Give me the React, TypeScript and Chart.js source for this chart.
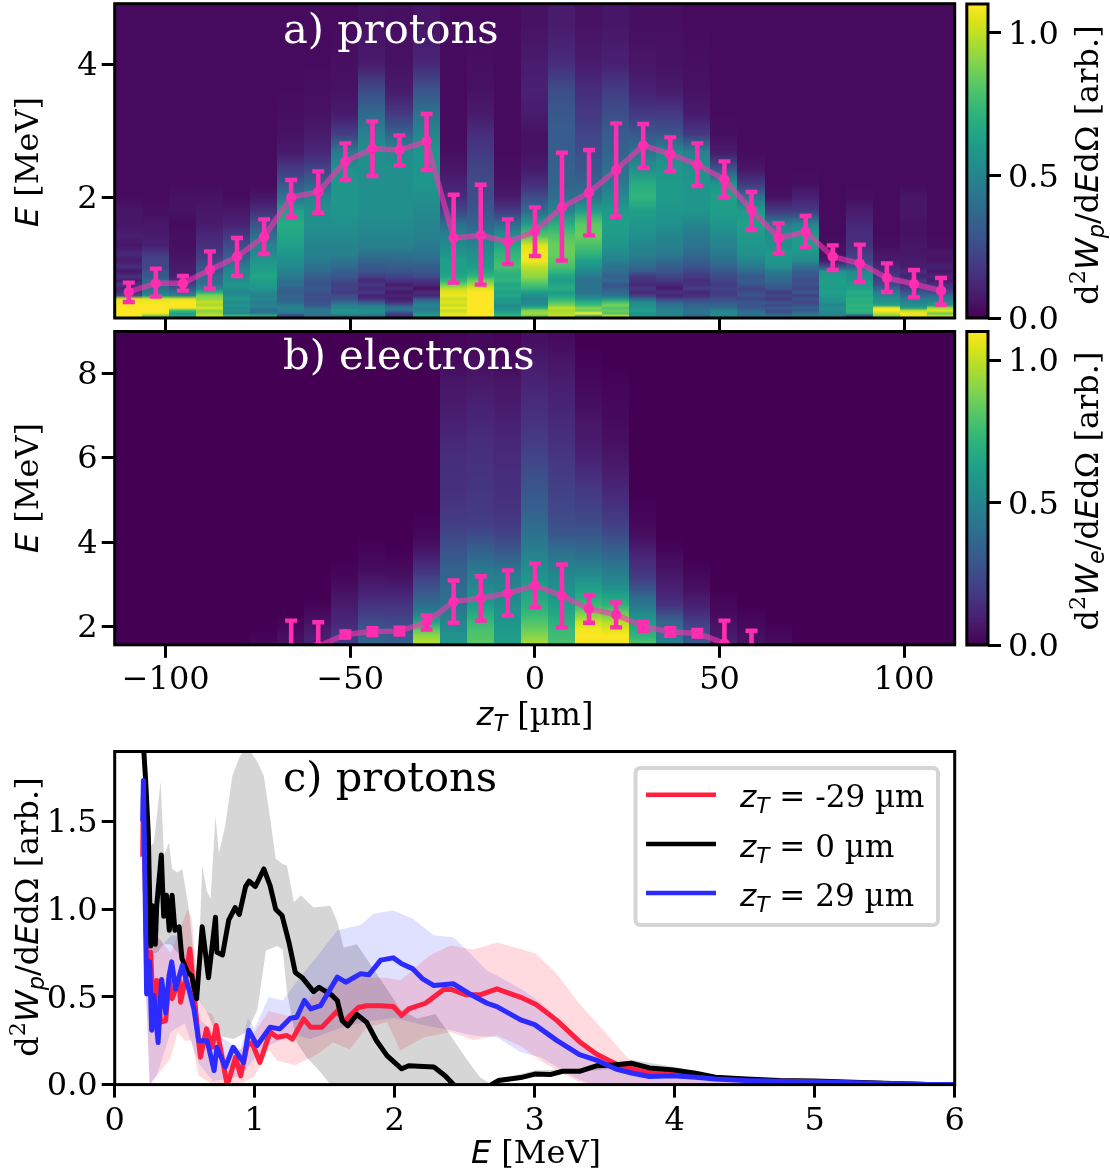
import React, { useEffect, useRef } from "react";
import { Chart, registerables } from "chart.js";
Chart.register(...registerables);

// ---------- data ----------
const zCenters = [-110,-102.67,-95.33,-88,-80.67,-73.33,-66,-58.67,-51.33,-44,-36.67,-29.33,-22,-14.67,-7.33,0,7.33,14.67,22,29.33,36.67,44,51.33,58.67,66,73.33,80.67,88,95.33,102.67,110];
const zHalfWidth = 3.667;

const protonRowEdges = [0.2,0.24,0.28,0.32,0.36,0.4,0.45,0.5,0.55,0.6,0.66,0.72,0.78,0.85,0.92,1.0,1.1,1.2,1.35,1.5,1.7,1.9,2.1,2.3,2.55,2.8,3.1,3.4,3.8,4.2,4.95];
const protonColumns = [
[110,110,110,110,110,108,105,25,15,10,18,8,15,6,14,8,12,6,9,6,6,3,3,3,3,3,3,3,3,3],
[85,108,110,110,110,108,105,55,45,40,35,38,30,28,22,22,18,10,8,6,4,3,3,3,3,3,3,3,3,3],
[65,62,75,108,110,110,105,50,40,30,20,14,10,8,8,6,5,4,4,3,5,5,3,3,3,3,3,3,3,3],
[100,95,90,105,95,100,92,88,70,50,42,38,36,30,28,22,18,14,12,8,6,5,3,3,3,3,3,3,3,3],
[75,50,55,52,58,52,60,55,50,55,58,55,52,50,45,38,30,25,18,10,6,3,3,3,3,3,3,3,3,3],
[70,45,40,45,50,45,50,48,52,58,60,62,65,62,60,58,52,48,40,28,14,6,3,3,3,3,3,3,3,3],
[20,42,48,50,45,38,35,35,32,35,40,40,45,48,52,55,58,62,65,68,62,42,30,18,8,5,4,3,3,3],
[40,42,45,38,30,28,25,25,28,30,28,30,32,38,42,45,48,50,52,55,55,50,35,22,12,8,5,4,3,3],
[40,55,58,50,48,38,28,25,18,22,20,25,30,32,38,42,48,50,52,55,58,58,58,55,45,20,8,5,4,3],
[42,52,55,50,45,30,15,10,18,12,18,12,20,28,30,35,42,48,50,52,55,55,55,55,55,48,38,25,8,5],
[15,22,40,42,30,15,8,12,6,14,8,16,22,28,32,36,42,48,50,52,55,55,55,55,52,35,18,8,5,4],
[62,55,48,45,50,42,30,10,14,5,12,16,25,30,32,38,42,45,48,50,52,55,58,58,58,50,42,28,12,6],
[108,105,100,108,100,105,100,108,105,100,85,72,65,62,62,62,58,52,48,40,22,14,10,6,4,3,3,3,3,3],
[110,110,110,110,110,110,110,110,110,105,95,85,72,65,60,58,55,50,45,35,30,25,25,22,18,14,8,5,4,3],
[72,65,60,55,52,60,58,65,62,68,65,72,70,72,78,75,72,65,55,38,18,8,5,4,3,3,3,3,3,3],
[85,95,90,70,55,52,50,55,60,72,78,85,92,95,100,108,108,105,80,60,38,25,14,8,5,5,8,10,8,5],
[100,98,95,100,88,80,72,65,60,68,65,60,65,72,78,82,85,85,80,68,48,40,35,34,32,32,30,26,14,8],
[75,110,85,90,75,70,55,48,42,42,42,40,45,50,58,62,72,78,85,82,62,42,35,30,26,22,18,14,8,5],
[100,80,85,80,88,78,60,42,38,32,28,38,32,40,42,48,52,58,60,62,60,52,45,40,35,32,26,20,10,6],
[58,55,62,58,55,52,38,20,12,18,12,16,18,30,38,42,48,50,55,58,62,72,68,55,42,30,18,10,6,4],
[48,50,48,45,42,35,22,10,16,8,12,18,22,28,32,38,45,48,50,55,58,60,60,58,52,28,18,8,5,4],
[35,42,42,38,35,30,22,15,12,20,16,14,18,22,28,32,38,42,45,50,58,58,58,55,48,18,8,5,4,3],
[50,52,48,40,35,30,25,20,18,22,18,22,25,30,35,40,45,48,52,58,62,62,58,28,8,4,3,3,3,3],
[42,40,38,30,28,30,22,28,25,22,28,32,30,38,45,50,55,58,60,62,60,42,18,6,3,3,3,3,3,3],
[42,30,25,32,22,28,18,25,18,30,32,38,40,45,55,58,60,55,55,45,18,5,3,3,3,3,3,3,3,3],
[45,40,30,35,28,22,28,20,30,22,28,25,30,32,40,52,58,60,60,48,18,10,4,3,3,3,3,3,3,3],
[45,50,52,55,50,55,58,60,62,60,62,62,60,58,25,8,5,4,3,3,3,3,3,3,3,3,3,3,3,3],
[25,68,72,70,72,68,70,65,68,62,60,58,55,52,30,22,20,15,14,12,8,4,3,3,3,3,3,3,3,3],
[88,100,110,108,65,58,55,50,45,35,25,22,18,15,12,8,6,4,3,3,3,3,3,3,3,3,3,3,3,3],
[105,108,100,62,55,50,45,35,28,20,15,18,10,14,8,8,6,6,5,5,6,6,3,3,3,3,3,3,3,3],
[100,85,105,95,60,52,45,38,25,18,15,8,12,6,10,5,6,4,3,3,3,3,3,3,3,3,3,3,3,3],
];
const protonMean = [0.58,0.71,0.71,0.91,1.11,1.41,2.0,2.08,2.54,2.73,2.71,2.84,1.39,1.43,1.33,1.49,1.85,2.07,2.41,2.78,2.65,2.49,2.27,1.81,1.39,1.48,1.11,1.01,0.79,0.7,0.6];
const protonHi = [0.72,0.93,0.82,1.19,1.39,1.67,2.26,2.39,2.81,3.14,2.93,3.25,2.04,2.19,1.67,1.85,2.67,2.71,3.11,3.1,2.9,2.81,2.54,2.08,1.61,1.72,1.28,1.29,1.01,0.91,0.79];
const protonLo = [0.43,0.51,0.6,0.63,0.82,1.15,1.71,1.77,2.26,2.32,2.48,2.41,0.72,0.69,1.0,1.12,1.05,1.43,1.71,2.44,2.39,2.17,2.0,1.51,1.16,1.25,0.91,0.73,0.58,0.5,0.39];

const electronRowEdges = [1.55,1.7,1.85,2.0,2.2,2.4,2.6,2.8,3.0,3.25,3.5,3.75,4.0,4.3,4.6,5.0,5.4,5.8,6.2,6.6,7.0,7.5,8.0,8.5,9.05];
const electronColumns = [
[],[],[],[],[],
[2,1],
[5,4,2,1],
[10,9,7,5,3,1],
[20,18,15,12,10,8,6,4,2,1],
[36,34,30,25,20,16,12,9,6,3,2,1],
[34,32,28,24,20,16,12,9,5,3,1],
[98,92,82,65,48,40,33,28,22,15,10,5,2,1],
[58,56,52,50,46,42,40,38,36,34,30,27,23,20,17,15,15,14,12,10,8,6,3,1],
[82,80,78,74,68,62,56,52,48,44,38,32,25,20,18,17,16,15,14,12,10,7,4,2],
[62,60,60,58,56,54,52,50,48,42,35,28,22,18,16,15,14,13,12,10,8,6,3,1],
[95,90,85,80,74,70,66,62,58,54,50,46,42,38,33,30,26,22,19,16,14,11,8,4],
[78,76,74,70,66,62,58,55,52,48,44,38,30,26,23,21,19,17,15,13,11,9,6,3],
[108,110,108,102,88,75,68,62,56,48,42,36,30,25,21,18,14,10,8,6,4,2,1],
[108,110,105,98,85,72,64,56,50,44,38,32,25,20,16,12,9,6,4,3,2,1],
[78,72,68,60,52,44,38,28,20,15,12,8,4,2,1],
[48,44,40,35,26,16,12,10,8,5,3,1],
[30,27,24,20,14,10,7,4,3,1],
[10,8,6,5,3,2,1],
[5,4,3,2,1],
[3,2,1],
[],[],[],[],[],[],
];
const electronMean = [null,null,null,null,null,null,1.3,1.53,1.81,1.88,1.89,2.1,2.59,2.67,2.79,2.97,2.73,2.42,2.28,2.0,1.87,1.84,1.6,1.25,null,null,null,null,null,null,null];
const electronHi = [null,null,null,null,null,null,2.14,2.1,1.88,1.96,1.97,2.26,3.09,3.19,3.33,3.49,3.47,2.75,2.57,2.1,1.96,1.92,2.14,1.9,null,null,null,null,null,null,null];
const electronLo = [null,null,null,null,null,null,0.6,1.0,1.74,1.8,1.81,1.93,2.09,2.14,2.26,2.46,1.98,2.09,1.98,1.9,1.78,1.76,1.1,0.7,null,null,null,null,null,null,null];

const redE = [0.2,0.205,0.22,0.233,0.257,0.27,0.3,0.328,0.364,0.388,0.41,0.46,0.47,0.506,0.537,0.566,0.6,0.613,0.656,0.697,0.725,0.756,0.8,0.815,0.863,0.9,0.946,0.98,1.037,1.11,1.16,1.23,1.27,1.35,1.4,1.48,1.59,1.64,1.67,1.74,1.8,1.9,1.99,2.05,2.1,2.22,2.35,2.41,2.51,2.61,2.73,2.9,3.01,3.16,3.32,3.44,3.58,3.7,3.82,3.99,4.15,4.29,4.51,4.75,5.0,5.5,5.8,6.0];
const redW = [1.3,1.65,1.08,0.527,0.755,0.51,0.594,0.356,0.365,0.6,0.49,0.6,0.47,0.6,0.774,0.527,0.24,0.156,0.318,0.213,0.337,0.2,0.013,0.023,0.156,0.05,0.223,0.24,0.127,0.3,0.27,0.28,0.26,0.375,0.327,0.327,0.42,0.356,0.385,0.44,0.45,0.45,0.445,0.394,0.432,0.464,0.542,0.542,0.512,0.512,0.546,0.498,0.457,0.365,0.245,0.175,0.118,0.09,0.067,0.067,0.051,0.038,0.027,0.02,0.016,0.006,0.001,0];
const blackE = [0.2,0.22,0.24,0.257,0.27,0.29,0.3,0.333,0.35,0.37,0.39,0.41,0.43,0.46,0.48,0.52,0.55,0.585,0.625,0.67,0.72,0.73,0.77,0.815,0.86,0.89,0.935,0.96,1.005,1.065,1.11,1.15,1.195,1.245,1.29,1.34,1.42,1.46,1.55,1.59,1.625,1.665,1.73,1.8,1.87,1.945,2.05,2.1,2.28,2.36,2.42,2.46,2.66,2.69,2.74,2.9,3.0,3.11,3.2,3.32,3.44,3.56,3.69,3.82,3.99,4.15,4.29,4.51,4.75,5.0,5.5,5.8,6.0];
const blackW = [2.0,1.75,1.43,0.79,1.02,0.8,1.02,1.31,0.96,1.08,0.88,1.08,0.88,0.9,0.72,0.64,0.62,0.49,0.9,0.61,0.955,0.755,0.74,0.94,1.01,0.97,1.13,1.16,1.13,1.23,1.135,1.0,0.965,0.81,0.64,0.61,0.53,0.555,0.51,0.48,0.365,0.335,0.4,0.355,0.25,0.165,0.09,0.108,0.1,0.05,0,-0.05,-0.05,0,0.023,0.04,0.06,0.057,0.076,0.076,0.107,0.112,0.122,0.095,0.084,0.065,0.042,0.032,0.023,0.02,0.008,0.001,0];
const blueE = [0.2,0.205,0.214,0.228,0.25,0.264,0.28,0.31,0.335,0.364,0.388,0.407,0.435,0.483,0.523,0.566,0.6,0.66,0.71,0.73,0.79,0.846,0.92,0.958,1.017,1.11,1.18,1.255,1.3,1.355,1.4,1.47,1.59,1.65,1.755,1.815,1.9,1.99,2.05,2.13,2.2,2.28,2.42,2.53,2.66,2.73,2.9,3.0,3.16,3.32,3.44,3.58,3.7,3.82,3.99,4.15,4.29,4.51,4.75,5.0,5.5,5.8,6.0];
const blueW = [1.5,1.735,1.29,0.517,0.7,0.31,0.51,0.24,0.6,0.41,0.62,0.7,0.546,0.68,0.565,0.43,0.25,0.25,0.08,0.213,0.1,0.213,0.127,0.31,0.223,0.327,0.318,0.379,0.384,0.48,0.432,0.45,0.613,0.584,0.632,0.626,0.71,0.723,0.689,0.66,0.603,0.565,0.575,0.52,0.464,0.445,0.369,0.342,0.251,0.171,0.14,0.089,0.065,0.046,0.051,0.042,0.032,0.023,0.019,0.016,0.006,0.001,0];

const grayHiE = [0.2,0.24,0.25,0.28,0.328,0.352,0.388,0.41,0.447,0.483,0.53,0.578,0.6,0.625,0.66,0.685,0.72,0.744,0.79,0.84,0.887,0.92,0.97,1.02,1.065,1.11,1.15,1.195,1.23,1.28,1.33,1.42,1.54,1.59,1.635,1.73,1.8,1.945,2.04,2.16,2.29,2.39,2.52,2.61,2.69,2.75,3.0,3.3,3.7,4.0,4.3,4.75,5.5,6.0];
const grayHiW = [2.0,1.44,1.36,1.38,1.73,1.31,1.38,1.23,1.21,1.23,1.0,0.64,0.7,1.25,1.1,1.06,1.535,1.32,1.48,1.76,1.86,1.91,1.9,1.84,1.76,1.52,1.29,1.26,1.25,1.04,1.08,1.01,1.02,0.93,0.78,0.8,0.717,0.546,0.43,0.375,0.403,0.29,0.137,0.042,0,0.03,0.08,0.09,0.14,0.1,0.05,0.03,0.01,0];
const grayLoE = [0.2,0.25,0.3,0.35,0.4,0.45,0.5,0.55,0.59,0.66,0.73,0.85,0.946,1.02,1.08,1.16,1.2,1.23,1.3,1.37,1.47,1.54,2.7,3.0,3.7,4.3,6.0];
const grayLoW = [1.0,0.75,0.75,0.8,0.8,0.75,0.7,0.6,0.5,0.41,0.28,0.26,0.3,0.43,0.765,0.79,0.77,0.53,0.24,0.156,0.07,0,0,0.05,0.1,0.03,0];
const redHiE = [0.2,0.25,0.3,0.35,0.4,0.45,0.52,0.55,0.6,0.65,0.7,0.8,0.9,1.0,1.1,1.2,1.3,1.4,1.5,1.6,1.73,1.945,2.04,2.25,2.4,2.56,2.73,2.9,3.01,3.16,3.32,3.49,3.66,3.78,4.04,4.27,4.51,6.0];
const redHiW = [1.7,0.95,0.85,0.8,0.75,0.85,1.0,0.95,0.5,0.42,0.4,0.15,0.2,0.3,0.42,0.4,0.38,0.5,0.55,0.6,0.61,0.61,0.594,0.736,0.793,0.77,0.81,0.774,0.746,0.63,0.46,0.31,0.156,0.09,0.08,0.04,0.028,0];
const redLoE = [0.2,0.25,0.3,0.35,0.4,0.45,0.5,0.55,0.6,0.7,0.9,1.0,1.1,1.16,1.29,1.45,1.56,1.68,1.8,1.945,2.04,2.21,2.4,2.56,2.73,2.9,3.04,3.16,3.32,3.44,6.0];
const redLoW = [1.0,0,0.05,0.1,0.15,0.3,0.25,0.25,0.05,0,0,0.05,0.2,0.137,0.11,0.175,0.24,0.2,0.327,0.355,0.194,0.27,0.3,0.255,0.28,0.22,0.137,0.08,0.013,0,0];
const blueHiE = [0.2,0.25,0.3,0.35,0.4,0.45,0.5,0.55,0.6,0.7,0.8,0.9,0.95,1.0,1.1,1.2,1.33,1.47,1.59,1.755,1.85,1.99,2.13,2.28,2.42,2.53,2.66,2.73,2.92,3.04,3.16,3.32,3.44,3.56,3.7,3.82,4.5,6.0];
const blueHiW = [1.8,0.95,0.85,0.8,0.85,0.85,0.75,0.6,0.38,0.3,0.25,0.2,0.38,0.32,0.5,0.48,0.62,0.755,0.88,0.91,0.974,0.993,0.946,0.85,0.84,0.755,0.65,0.622,0.537,0.47,0.384,0.25,0.175,0.118,0.08,0.042,0.03,0];
const blueLoE = [0.2,0.25,0.3,0.4,0.5,0.6,0.7,0.8,0.9,1.0,1.1,1.2,1.3,1.4,1.6,1.8,2.0,2.1,2.2,2.4,2.55,2.73,2.9,3.04,3.16,3.28,3.37,3.44,6.0];
const blueLoW = [1.0,0,0.05,0.3,0.35,0.12,0.02,0.03,0.05,0.15,0.22,0.26,0.28,0.26,0.32,0.36,0.38,0.36,0.34,0.31,0.28,0.27,0.185,0.156,0.1,0.042,0.01,0,0];

const legendValues = ["-29", "0", "29"];
const zTicks = [-100, -50, 0, 50, 100];
const protonETicks = [2, 4];
const electronETicks = [2, 4, 6, 8];
const spectrumETicks = [0, 1, 2, 3, 4, 5, 6];
const spectrumWTicks = [0, 0.5, 1, 1.5];
const colorbarTicks = [0, 0.5, 1];
const viridis = ["#440154","#481567","#482677","#453781","#404788","#39568C","#33638D","#2D708E","#287D8E","#238A8D","#1F968B","#20A387","#29AF7F","#3CBB75","#55C667","#73D055","#95D840","#B8DE29","#DCE319","#FDE725"];

// ---------- drawing helpers ----------
const SERIF = "'DejaVu Serif'";
const SANS = "'DejaVu Sans'";
const PINK = "#ff2db0";
const VMAX = 1.1;
const L = 114.7, R = 954.7, W = 1110, H = 1171;
const TICK_FONT = 32;

function hex(c: string) { return [1, 3, 5].map((i) => parseInt(c.slice(i, i + 2), 16)); }
function colorOf(v: number) {
  const t = Math.max(0, Math.min(1, v / VMAX)) * (viridis.length - 1);
  const i = Math.min(viridis.length - 2, Math.floor(t));
  const a = hex(viridis[i]), b = hex(viridis[i + 1]), f = t - i;
  return `rgb(${a.map((x, k) => Math.round(x + (b[k] - x) * f)).join(",")})`;
}

type Run = { t: string; i?: boolean; sub?: boolean; sup?: boolean };
function runFont(r: Run, size: number) {
  const s = r.sub || r.sup ? size * 0.7 : size;
  return r.i ? `italic ${s}px ${SANS}` : `${s}px ${SERIF}`;
}
function drawRuns(ctx: any, runs: Run[], x: number, y: number, size: number, rot = 0, color = "#000", align = "center") {
  ctx.save();
  ctx.translate(x, y);
  ctx.rotate(rot);
  ctx.fillStyle = color;
  ctx.textBaseline = "alphabetic";
  ctx.textAlign = "left";
  let w = 0;
  for (const r of runs) { ctx.font = runFont(r, size); w += ctx.measureText(r.t).width; }
  let px = align === "center" ? -w / 2 : 0;
  for (const r of runs) {
    ctx.font = runFont(r, size);
    const dy = r.sub ? size * 0.2 : r.sup ? -size * 0.42 : 0;
    ctx.fillText(r.t, px, dy);
    px += ctx.measureText(r.t).width;
  }
  ctx.restore();
}
const zLabel: Run[] = [{ t: "z", i: true }, { t: "T", i: true, sub: true }];
const eLabel: Run[] = [{ t: "E", i: true }, { t: " [MeV]" }];
const dLabel = (p: string): Run[] => [{ t: "d" }, { t: "2", sup: true }, { t: "W", i: true }, { t: p, i: true, sub: true }, { t: "/d" }, { t: "E", i: true }, { t: "dΩ [arb.]" }];

function heatPlugin(columns: number[][], edges: number[]) {
  return {
    id: "heat",
    beforeDatasetsDraw(chart: any) {
      const { ctx, chartArea: a, scales } = chart;
      ctx.save();
      ctx.beginPath();
      ctx.rect(a.left, a.top, a.right - a.left, a.bottom - a.top);
      ctx.clip();
      const yb = scales.y.getPixelForValue(edges[0]);
      const yt = scales.y.getPixelForValue(edges[edges.length - 1]);
      columns.forEach((col, i) => {
        const x0 = Math.floor(scales.x.getPixelForValue(zCenters[i] - zHalfWidth));
        const x1 = Math.ceil(scales.x.getPixelForValue(zCenters[i] + zHalfWidth));
        const g = ctx.createLinearGradient(0, yb, 0, yt);
        for (let r = 0; r < edges.length - 1; r++) {
          const yc = scales.y.getPixelForValue((edges[r] + edges[r + 1]) / 2);
          g.addColorStop(Math.max(0, Math.min(1, (yb - yc) / (yb - yt))), colorOf((col[r] ?? 0) / 100));
        }
        ctx.fillStyle = g;
        ctx.fillRect(x0, yt, x1 - x0, yb - yt);
      });
      ctx.restore();
    },
  };
}
function errorPlugin(hi: (number | null)[], lo: (number | null)[]) {
  return {
    id: "errs",
    afterDatasetsDraw(chart: any) {
      const { ctx, chartArea: a, scales } = chart;
      ctx.save();
      ctx.beginPath();
      ctx.rect(a.left, a.top, a.right - a.left, a.bottom - a.top);
      ctx.clip();
      ctx.strokeStyle = PINK;
      zCenters.forEach((z, i) => {
        if (hi[i] == null || lo[i] == null) return;
        const x = scales.x.getPixelForValue(z);
        const y0 = scales.y.getPixelForValue(hi[i]);
        const y1 = scales.y.getPixelForValue(lo[i]);
        ctx.lineWidth = 4.6;
        ctx.beginPath();
        ctx.moveTo(x, y0); ctx.lineTo(x, y1);
        ctx.stroke();
        ctx.lineWidth = 4.4;
        ctx.beginPath();
        ctx.moveTo(x - 6, y0); ctx.lineTo(x + 6, y0);
        ctx.moveTo(x - 6, y1); ctx.lineTo(x + 6, y1);
        ctx.stroke();
      });
      ctx.restore();
    },
  };
}
function framePlugin(draw?: (ctx: any) => void) {
  return {
    id: "frame",
    afterDraw(chart: any) {
      const { ctx, chartArea: a } = chart;
      ctx.save();
      ctx.strokeStyle = "#000";
      ctx.lineWidth = 3;
      ctx.strokeRect(a.left, a.top, a.right - a.left, a.bottom - a.top);
      ctx.restore();
      if (draw) draw(ctx);
    },
  };
}
function axis(min: number, max: number, ticks: number[], size: number, fmt: (v: number) => string, showLabels: boolean, padding: number, labelOffset: number, extra: any = {}) {
  return {
    type: "linear", min, max,
    afterBuildTicks: (s: any) => { s.ticks = ticks.map((value) => ({ value })); },
    afterFit: (s: any) => {
      if (s.isHorizontal()) s.height = size; else s.width = size;
      s.paddingLeft = s.paddingRight = s.paddingTop = s.paddingBottom = 0;
    },
    border: { display: false },
    grid: { drawOnChartArea: false, drawTicks: true, tickLength: 13, tickWidth: 3, lineWidth: 3, tickColor: "#000" },
    ticks: {
      display: showLabels, autoSkip: false, maxRotation: 0, minRotation: 0, padding, labelOffset, color: "#000",
      font: { family: SERIF, size: TICK_FONT },
      callback: (v: number) => fmt(v),
    },
    ...extra,
  };
}
const intFmt = (v: number) => (v < 0 ? "\u2212" + Math.abs(v) : String(v));
const oneFmt = (v: number) => v.toFixed(1);

function heatChart(canvas: HTMLCanvasElement, top: number, bottom: number, yMin: number, yMax: number, yTicks: number[], columns: number[][], edges: number[], mean: (number | null)[], hi: (number | null)[], lo: (number | null)[], showX: boolean, draw: (ctx: any) => void) {
  const xh = showX ? 60 : 13;
  return new Chart(canvas, {
    type: "scatter",
    data: {
      datasets: [{
        data: zCenters.map((x, i) => ({ x, y: mean[i] })).filter((p) => p.y != null),
        showLine: true,
        borderColor: "rgba(255,50,175,0.6)",
        borderWidth: 5.5,
        backgroundColor: PINK,
        pointBackgroundColor: PINK,
        pointBorderWidth: 0,
        pointRadius: 5.2,
      }],
    },
    options: {
      responsive: false, animation: false, events: [],
      layout: { autoPadding: false, padding: { left: 0, top, right: W - R, bottom: H - bottom - xh } },
      plugins: { legend: { display: false }, tooltip: { enabled: false } },
      scales: {
        x: axis(-113.8, 113.7, zTicks, xh, intFmt, showX, 4, 0),
        y: axis(yMin, yMax, yTicks, L, intFmt, true, 4, 2.5),
      },
    } as any,
    plugins: [heatPlugin(columns, edges), errorPlugin(hi, lo), framePlugin(draw)],
  } as any);
}
function colorbarChart(canvas: HTMLCanvasElement, top: number, bottom: number, title: Run[], titleY: number) {
  return new Chart(canvas, {
    type: "scatter",
    data: { datasets: [{ data: [] }] },
    options: {
      responsive: false, animation: false, events: [],
      layout: { autoPadding: false, padding: { left: 966.8, top, right: 0, bottom: H - bottom } },
      plugins: { legend: { display: false }, tooltip: { enabled: false } },
      scales: {
        x: { type: "linear", display: false, min: 0, max: 1 },
        y: axis(0, VMAX, colorbarTicks, W - 988, oneFmt, true, 7, 3, { position: "right" }),
      },
    } as any,
    plugins: [{
      id: "bar",
      beforeDatasetsDraw(chart: any) {
        const { ctx, chartArea: a, scales } = chart;
        const g = ctx.createLinearGradient(0, scales.y.getPixelForValue(0), 0, scales.y.getPixelForValue(VMAX));
        viridis.forEach((c, i) => g.addColorStop(i / (viridis.length - 1), c));
        ctx.fillStyle = g;
        ctx.fillRect(a.left, a.top, a.right - a.left, a.bottom - a.top);
      },
    }, framePlugin((ctx) => drawRuns(ctx, title, 1098, titleY, 32, -Math.PI / 2))],
  } as any);
}
function spectrumChart(canvas: HTMLCanvasElement) {
  const band = (xs: number[], ys: number[]) => xs.map((x, i) => ({ x, y: ys[i] }));
  const fillBand = (xs: number[], ys: number[], target: number, color: string) => ({
    data: band(xs, ys), borderWidth: 0, pointRadius: 0, order: 5,
    fill: target < 0 ? false : { target, above: color, below: color }, tension: 0,
  });
  const line = (xs: number[], ys: number[], color: string, order: number) => ({
    data: band(xs, ys), borderColor: color, borderWidth: 5, pointRadius: 0, order, fill: false, tension: 0, borderJoinStyle: "round",
  });
  const GRAY = "rgba(0,0,0,0.16)", PR = "rgba(255,30,60,0.16)", PB = "rgba(45,45,255,0.15)";
  const RED = "#ff1f3f", BLUE = "#2b2bff";
  return new Chart(canvas, {
    type: "line",
    data: {
      datasets: [
        fillBand(grayLoE, grayLoW, -1, GRAY),
        fillBand(grayHiE, grayHiW, 0, GRAY),
        fillBand(redLoE, redLoW, -1, PR),
        fillBand(redHiE, redHiW, 2, PR),
        fillBand(blueLoE, blueLoW, -1, PB),
        fillBand(blueHiE, blueHiW, 4, PB),
        line(redE, redW, RED, 2),
        line(blackE, blackW, "#000", 1),
        line(blueE, blueW, BLUE, 0),
      ],
    },
    options: {
      responsive: false, animation: false, events: [],
      layout: { autoPadding: false, padding: { left: 0, top: 751.5, right: W - R, bottom: 0 } },
      plugins: { legend: { display: false }, tooltip: { enabled: false } },
      scales: {
        x: axis(0, 6, spectrumETicks, H - 1084.6, intFmt, true, 5, 0),
        y: axis(0, 1.9, spectrumWTicks, L, oneFmt, true, 4, 2.5),
      },
    } as any,
    plugins: [framePlugin((ctx) => {
      drawRuns(ctx, [{ t: "c) protons" }], 283, 791, 41.6, 0, "#000", "left");
      drawRuns(ctx, eLabel, 536, 1163, 32);
      drawRuns(ctx, dLabel("p"), 38, 917, 32, -Math.PI / 2);
      // legend
      ctx.save();
      ctx.fillStyle = "#fff";
      ctx.strokeStyle = "#d5d5d5";
      ctx.lineWidth = 4;
      ctx.beginPath();
      ctx.roundRect(635.5, 768, 302.5, 157, 5);
      ctx.fill();
      ctx.stroke();
      const colors = [RED, "#000", BLUE];
      const ys = [794.7, 844, 893];
      colors.forEach((c, i) => {
        ctx.strokeStyle = c;
        ctx.lineWidth = 4.6;
        ctx.beginPath();
        ctx.moveTo(646, ys[i]);
        ctx.lineTo(716, ys[i]);
        ctx.stroke();
        drawRuns(ctx, [...zLabel, { t: ` = ${legendValues[i]} µm` }], 740, ys[i] + 12.5, 31, 0, "#000", "left");
      });
      ctx.restore();
    })],
  } as any);
}

const canvasStyle: React.CSSProperties = { position: "absolute", left: 0, top: 0 };

export default function App() {
  const a = useRef<HTMLCanvasElement>(null);
  const b = useRef<HTMLCanvasElement>(null);
  const c = useRef<HTMLCanvasElement>(null);
  const ca = useRef<HTMLCanvasElement>(null);
  const cb = useRef<HTMLCanvasElement>(null);
  useEffect(() => {
    const charts = [
      heatChart(a.current!, 3.7, 318, 0.19, 4.905, protonETicks, protonColumns, protonRowEdges, protonMean, protonHi, protonLo, false, (ctx) => {
        drawRuns(ctx, [{ t: "a) protons" }], 283, 43, 41.6, 0, "#fff", "left");
        drawRuns(ctx, eLabel, 38, 162, 32, -Math.PI / 2);
      }),
      heatChart(b.current!, 331.5, 644.8, 1.566, 8.99, electronETicks, electronColumns, electronRowEdges, electronMean, electronHi, electronLo, true, (ctx) => {
        drawRuns(ctx, [{ t: "b) electrons" }], 283, 369, 41.6, 0, "#fff", "left");
        drawRuns(ctx, eLabel, 38, 488, 32, -Math.PI / 2);
        drawRuns(ctx, [...zLabel, { t: " [µm]" }], 535, 725, 32);
      }),
      colorbarChart(ca.current!, 4, 318, dLabel("p"), 165),
      colorbarChart(cb.current!, 331.5, 645, dLabel("e"), 491),
      spectrumChart(c.current!),
    ];
    return () => charts.forEach((ch) => ch.destroy());
  }, []);
  return (
    <div style={{ position: "absolute", left: 0, top: 0, width: W, height: H, background: "#fff" }}>
      <canvas ref={a} width={W} height={H} style={canvasStyle} />
      <canvas ref={b} width={W} height={H} style={canvasStyle} />
      <canvas ref={ca} width={W} height={H} style={canvasStyle} />
      <canvas ref={cb} width={W} height={H} style={canvasStyle} />
      <canvas ref={c} width={W} height={H} style={canvasStyle} />
    </div>
  );
}
